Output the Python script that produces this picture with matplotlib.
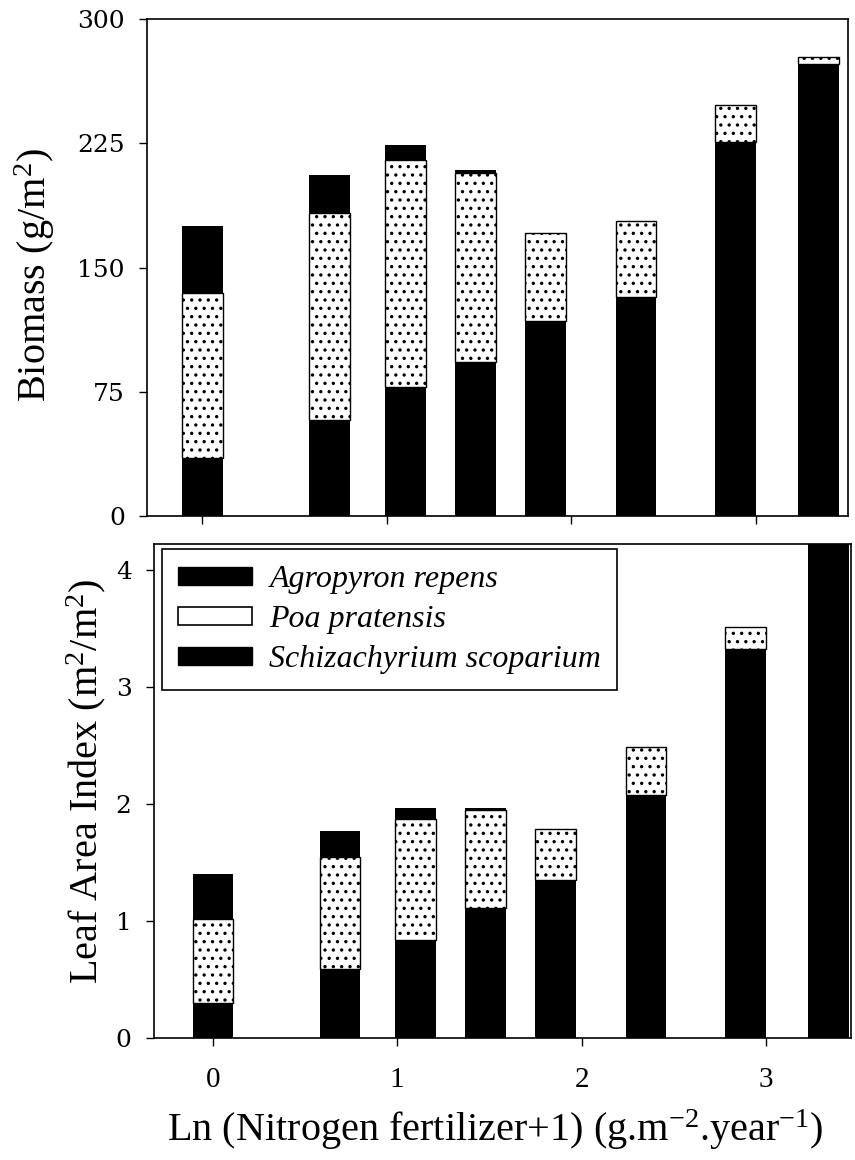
import matplotlib
matplotlib.use('Agg')
import matplotlib.pyplot as plt
import matplotlib.patches as mpatches

# x positions: Ln(N fertilizer + 1)
x_pos = [0.0, 0.69, 1.10, 1.48, 1.86, 2.35, 2.89, 3.34]

# Biomass (g/m2), stacked bottom -> top
schiz_bm = [35, 58, 78, 93, 118, 132, 226, 273]
poa_bm = [100, 125, 137, 114, 53, 46, 22, 4]
agro_bm = [40, 23, 9, 2, 0, 0, 0, 0]

# Leaf area index (m2/m2)
schiz_lai = [0.30, 0.59, 0.84, 1.11, 1.35, 2.08, 3.32, 4.30]
poa_lai = [0.72, 0.96, 1.03, 0.84, 0.44, 0.41, 0.19, 0.0]
agro_lai = [0.38, 0.22, 0.10, 0.02, 0, 0, 0, 0]

species = ['Agropyron repens', 'Poa pratensis', 'Schizachyrium scoparium']

serif = 'Liberation Serif'
plt.rcParams['hatch.linewidth'] = 1.2
plt.rcParams['mathtext.fontset'] = 'custom'
plt.rcParams['mathtext.rm'] = serif
plt.rcParams['mathtext.it'] = serif + ':italic'
width = 0.22

fig = plt.figure(figsize=(8.55, 11.6), dpi=100)
ax1 = fig.add_axes([0.172, 0.555, 0.820, 0.4285])
ax2 = fig.add_axes([0.180, 0.105, 0.815, 0.426])


def stack(ax, s, p, a):
    ax.bar(x_pos, s, width, color='black', edgecolor='black', linewidth=0)
    ax.bar(x_pos, p, width, bottom=s, color='white', edgecolor='black',
           linewidth=1.0, hatch='..')
    tops = [si + pi for si, pi in zip(s, p)]
    ax.bar(x_pos, a, width, bottom=tops, color='black', edgecolor='black',
           linewidth=0)


stack(ax1, schiz_bm, poa_bm, agro_bm)
stack(ax2, schiz_lai, poa_lai, agro_lai)

# top panel
ax1.set_xlim(-0.30, 3.50)
ax1.set_ylim(0, 300)
ax1.set_yticks([0, 75, 150, 225, 300])
ax1.set_xticks([0, 1, 2, 3])
ax1.set_xticklabels([])
ax1.set_ylabel('Biomass (g/m$^2$)', family=serif, fontsize=29)
ax1.yaxis.set_label_coords(-0.128, 0.485)

# bottom panel
ax2.set_xlim(-0.32, 3.46)
ax2.set_ylim(0, 4.22)
ax2.set_yticks([0, 1, 2, 3, 4])
ax2.set_xticks([0, 1, 2, 3])
ax2.set_ylabel('Leaf Area Index (m$^2$/m$^2$)', family=serif, fontsize=29)
ax2.yaxis.set_label_coords(-0.066, 0.52)
ax2.set_xlabel('Ln (Nitrogen fertilizer+1) (g.m$^{-2}$.year$^{-1}$)',
               family=serif, fontsize=29)
ax2.xaxis.set_label_coords(0.49, -0.14)

for ax in (ax1, ax2):
    for sp in ax.spines.values():
        sp.set_linewidth(1.2)
    ax.tick_params(direction='out', length=6, width=1.0)
    ax.tick_params(axis='y', pad=10)
    for lab in ax.get_yticklabels():
        lab.set_family('DejaVu Serif')
        lab.set_fontsize(18)
for lab in ax2.get_xticklabels():
    lab.set_family(serif)
    lab.set_fontsize(21)
ax2.tick_params(axis='x', pad=15)

handles = [
    mpatches.Patch(facecolor='black', edgecolor='black'),
    mpatches.Patch(facecolor='white', edgecolor='black', linewidth=1.2),
    mpatches.Patch(facecolor='black', edgecolor='black'),
]
leg = ax2.legend(handles, species, loc='upper left',
                 bbox_to_anchor=(0.012, 0.99), borderaxespad=0,
                 prop={'family': serif, 'style': 'italic', 'size': 23},
                 handlelength=2.3, handleheight=0.5, handletextpad=0.55,
                 labelspacing=0.35, borderpad=0.5, fancybox=False,
                 framealpha=1, edgecolor='black')
leg.get_frame().set_linewidth(1.2)

fig.savefig('out.png', dpi=100)
